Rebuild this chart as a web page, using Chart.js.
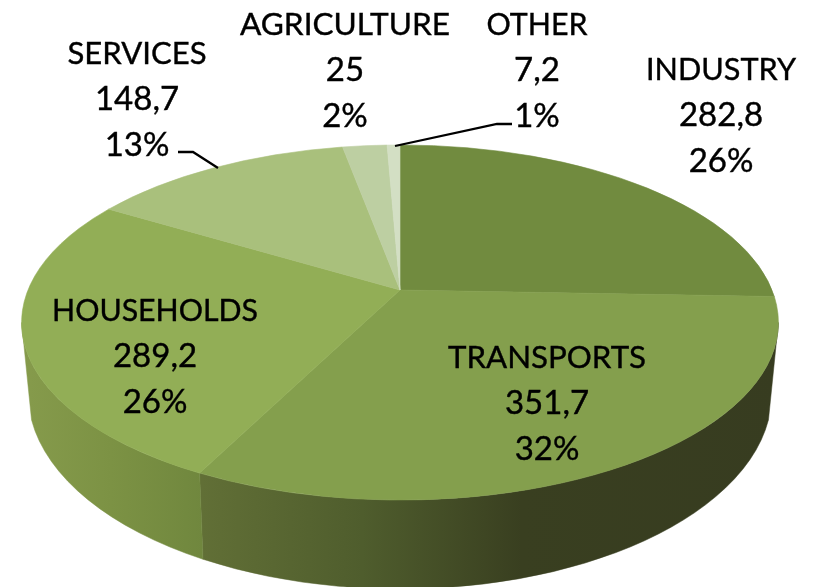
<!DOCTYPE html>
<html>
<head>
<meta charset="utf-8">
<style>
  html, body { margin: 0; background: #fff; }
  canvas { display: block; }
</style>
<script src="https://cdn.jsdelivr.net/npm/chart.js@4"></script>
</head>
<body>
<canvas id="pie" width="814" height="587"></canvas>
<script>
const categories = ["INDUSTRY", "TRANSPORTS", "HOUSEHOLDS", "SERVICES", "AGRICULTURE", "OTHER"];
const valores = [282.8, 351.7, 289.2, 148.7, 25, 7.2];
const valorLabels = ["282,8", "351,7", "289,2", "148,7", "25", "7,2"];
const pctLabels = ["26%", "32%", "26%", "13%", "2%", "1%"];
const colores = ["#718B3F", "#849F4D", "#92AE56", "#A9C07C", "#BDCFA2", "#D3DFC4"];

// centre of each label block and width of its title, in the order of categories
const labelX = [721, 547, 155, 137, 345, 537];
const labelY = [70, 358, 311, 54, 25, 25];
const labelW = [150, 198, 206, 139, 210, 101];
const lineGap = 45.5;

// perspective of the pie top: apex sits above the centre of the rim ellipse
const cx = 400, apexY = 290, persp = 0.183, halfW = 372, halfH = 171.6;
const rimA = halfW / Math.sqrt(1 - persp * persp);
const rimCy = (apexY - halfH / (1 + persp) + apexY + halfH / (1 - persp)) / 2;
const rimB = (halfH / (1 - persp) + halfH / (1 + persp)) / 2;
// lower rim of the cylinder, the side edge lands on it a bit below its widest point
const baseA = 372, baseB = 196, baseCy = 393, baseEdge = 0.138;

// chart angle -> parameter on the rim ellipse
function rimParam(angle) {
  const th = angle + Math.PI / 2;
  const w = 1 + persp * Math.cos(th);
  const sx = halfW * Math.sin(th) / w;
  const sy = apexY - halfH * Math.cos(th) / w;
  return Math.atan2((sy - rimCy) / rimB, sx / rimA);
}

class Pie3dArc extends Chart.ArcElement {
  static id = "pie3dArc";
  draw(ctx) {
    const { startAngle, endAngle } = this.getProps(["startAngle", "endAngle"]);
    ctx.save();
    ctx.beginPath();
    ctx.moveTo(cx, apexY);
    ctx.ellipse(cx, rimCy, rimA, rimB, 0, rimParam(startAngle), rimParam(endAngle), false);
    ctx.closePath();
    ctx.fillStyle = this.options.backgroundColor;
    ctx.strokeStyle = this.options.backgroundColor;
    ctx.lineWidth = 0.6;
    ctx.fill();
    ctx.stroke();
    ctx.restore();
  }
}
Chart.register(Pie3dArc);
Chart.defaults.datasets.pie.dataElementType = "pie3dArc";

function wallFill(ctx, i) {
  const g = ctx.createLinearGradient(20, 0, 780, 0);
  if (i === 1) {
    g.addColorStop(0.24, "#616F36");
    g.addColorStop(0.45, "#4F5D2D");
    g.addColorStop(0.66, "#393F20");
    g.addColorStop(1, "#373C20");
  } else {
    g.addColorStop(0, "#869B4C");
    g.addColorStop(0.12, "#7C9244");
    g.addColorStop(0.24, "#70873E");
  }
  return g;
}

function norm(t) {
  while (t < -Math.PI / 2) t += Math.PI * 2;
  while (t >= Math.PI * 1.5) t -= Math.PI * 2;
  return t;
}

const paredes = {
  id: "paredes",
  beforeDatasetsDraw(chart) {
    const ctx = chart.ctx;
    chart.getDatasetMeta(0).data.forEach((arc, i) => {
      let t1 = norm(rimParam(arc.startAngle));
      let t2 = norm(rimParam(arc.endAngle));
      if (t2 < t1) t2 += Math.PI * 2;
      // only the front half shows
      if (Math.min(t2, Math.PI) <= Math.max(t1, 0)) return;
      ctx.save();
      ctx.beginPath();
      ctx.ellipse(cx, rimCy, rimA, rimB, 0, Math.max(t1, 0), Math.min(t2, Math.PI), false);
      ctx.ellipse(cx, baseCy, baseA, baseB, 0, Math.min(t2, Math.PI - baseEdge), Math.max(t1, baseEdge), true);
      ctx.closePath();
      ctx.fillStyle = wallFill(ctx, i);
      ctx.strokeStyle = ctx.fillStyle;
      ctx.lineWidth = 0.5;
      ctx.fill();
      ctx.stroke();
      ctx.restore();
    });
  }
};

const etiquetas = {
  id: "etiquetas",
  afterDatasetsDraw(chart) {
    const ctx = chart.ctx;
    ctx.save();
    // leader lines
    ctx.strokeStyle = "#000";
    ctx.lineWidth = 2.3;
    ctx.beginPath();
    ctx.moveTo(178, 152); ctx.lineTo(193, 152); ctx.lineTo(218, 168);
    ctx.moveTo(395, 146); ctx.lineTo(497, 124); ctx.lineTo(512, 124);
    ctx.stroke();

    ctx.fillStyle = "#000";
    ctx.lineWidth = 0.4;
    ctx.textAlign = "center";
    ctx.textBaseline = "middle";
    categories.forEach((c, i) => {
      ctx.font = "31.6px Lato";
      ctx.fillText(c, labelX[i], labelY[i], labelW[i]);
      ctx.strokeText(c, labelX[i], labelY[i], labelW[i]);
      ctx.font = "33px Lato";
      [valorLabels[i], pctLabels[i]].forEach((txt, n) => {
        ctx.fillText(txt, labelX[i], labelY[i] + lineGap * (n + 1));
        ctx.strokeText(txt, labelX[i], labelY[i] + lineGap * (n + 1));
      });
    });
    ctx.restore();
  }
};

new Chart(document.getElementById("pie").getContext("2d"), {
  type: "pie",
  data: {
    labels: categories,
    datasets: [{ data: valores, backgroundColor: colores, borderWidth: 0 }]
  },
  options: {
    responsive: false,
    animation: false,
    plugins: { legend: { display: false }, tooltip: { enabled: false } }
  },
  plugins: [paredes, etiquetas]
});
</script>
</body>
</html>
